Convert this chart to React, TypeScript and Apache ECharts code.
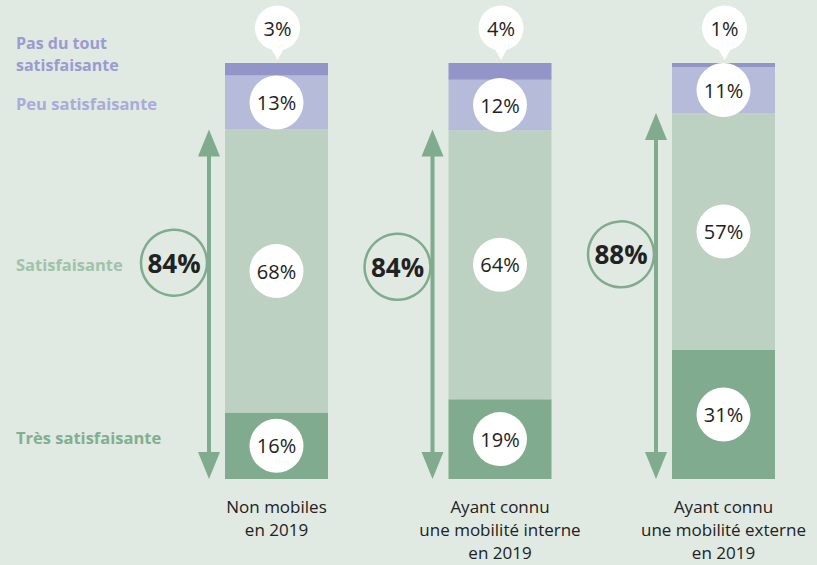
import React, { useEffect, useRef } from "react";
import * as echarts from "echarts";

const categories = [
  "Non mobiles\nen 2019",
  "Ayant connu\nune mobilité interne\nen 2019",
  "Ayant connu\nune mobilité externe\nen 2019",
];
const tresSatisfaisante = [16, 19, 31];
const satisfaisante = [68, 64, 57];
const peuSatisfaisante = [13, 12, 11];
const pasDuTout = [3, 4, 1];
const totalSatisfaits = [84, 84, 88];
const legendLabels = ["Pas du tout", "satisfaisante", "Peu satisfaisante", "Satisfaisante", "Très satisfaisante"];

const FONT = "Open Sans";
const BG = "#e0e9e2";
const C_TRES = "#80ab8e";
const C_SAT = "#bdd1c3";
const C_PEU = "#b5bbd8";
const C_PAS = "#9395c9";
const TXT = "#222222";

export default function App() {
  const ref = useRef<HTMLDivElement>(null);
  useEffect(() => {
    if (!ref.current) return;
    const chart = echarts.init(ref.current, undefined, { renderer: "svg" });

    const totals = categories.map(
      (_, i) => tresSatisfaisante[i] + satisfaisante[i] + peuSatisfaisante[i] + pasDuTout[i]
    );
    // each bar is drawn as shares of its own total (rounded labels may not sum to 100)
    const share = (arr: number[]) =>
      arr.map((v, i) => ({ value: (v / totals[i]) * 100, pct: v }));

    const circleLabel = {
      show: true,
      position: "inside",
      formatter: (p: any) => p.data.pct + "%",
      backgroundColor: "#ffffff",
      width: 54,
      height: 54,
      lineHeight: 54,
      borderRadius: 27,
      align: "center",
      color: TXT,
      fontSize: 20,
      fontFamily: FONT,
    };

    const circleLevels = [52, 51, 54];
    const legendFont = `bold 16.5px "${FONT}"`;
    const legendFontSmall = `bold 16px "${FONT}"`;

    const option: any = {
      animation: false,
      backgroundColor: BG,
      grid: { left: 276.5, width: 447, top: 63, height: 416 },
      xAxis: {
        type: "category",
        data: categories,
        boundaryGap: false,
        axisLine: { show: false },
        axisTick: { show: false },
        axisLabel: {
          color: TXT,
          fontSize: 17,
          lineHeight: 23,
          margin: 16,
          fontFamily: FONT,
          interval: 0,
        },
      },
      yAxis: { type: "value", min: 0, max: 100, show: false, splitLine: { show: false } },
      graphic: [
        {
          type: "text",
          left: 16,
          top: 35,
          style: { text: legendLabels[0], fill: "#9a9bd0", font: legendFontSmall },
        },
        {
          type: "text",
          left: 16,
          top: 57,
          style: { text: legendLabels[1], fill: "#9a9bd0", font: legendFontSmall },
        },
        {
          type: "text",
          left: 16,
          top: 95,
          style: { text: legendLabels[2], fill: "#a9abd8", font: legendFont },
        },
        {
          type: "text",
          left: 16,
          top: 256,
          style: { text: legendLabels[3], fill: "#9fc3aa", font: legendFont },
        },
        {
          type: "text",
          left: 16,
          top: 429,
          style: { text: legendLabels[4], fill: "#82ae91", font: legendFont },
        },
      ],
      series: [
        {
          type: "bar",
          stack: "s",
          barWidth: 103,
          data: share(tresSatisfaisante),
          itemStyle: { color: C_TRES },
          label: circleLabel,
        },
        {
          type: "bar",
          stack: "s",
          data: share(satisfaisante),
          itemStyle: { color: C_SAT },
          label: circleLabel,
        },
        {
          type: "bar",
          stack: "s",
          data: share(peuSatisfaisante),
          itemStyle: { color: C_PEU },
          label: circleLabel,
        },
        {
          type: "bar",
          stack: "s",
          data: share(pasDuTout),
          itemStyle: { color: C_PAS },
          label: { show: false },
        },
        {
          // callout bubbles for "Pas du tout satisfaisante"
          type: "custom",
          data: pasDuTout.map((v, i) => [i, 100, v]),
          z: 5,
          renderItem: (params: any, api: any) => {
            const p = api.coord([api.value(0), api.value(1)]);
            const tipY = p[1] - 3;
            const cx = p[0] + 1;
            const r = 22.5;
            const cy = tipY - 32;
            return {
              type: "group",
              children: [
                {
                  type: "circle",
                  shape: { cx, cy, r },
                  style: { fill: "#ffffff" },
                },
                {
                  type: "polygon",
                  shape: { points: [[cx - 7, cy + r - 3], [cx, tipY], [cx + 7, cy + r - 3]] },
                  style: { fill: "#ffffff" },
                },
                {
                  type: "text",
                  x: cx,
                  y: cy,
                  style: {
                    text: api.value(2) + "%",
                    fill: TXT,
                    font: `20px "${FONT}"`,
                    align: "center",
                    verticalAlign: "middle",
                  },
                },
              ],
            };
          },
        },
        {
          type: "custom",
          data: totalSatisfaits.map((v, i) => [i, v]),
          z: 6,
          renderItem: (params: any, api: any) => {
            const idx = api.value(0);
            const bottom = api.coord([idx, 0]);
            const top = api.coord([idx, api.value(1)]);
            const ax = bottom[0] - 67.5;
            const by = bottom[1];
            const ty = top[1];
            const cy = api.coord([idx, circleLevels[params.dataIndex]])[1];
            const green = C_TRES;
            return {
              type: "group",
              children: [
                {
                  type: "line",
                  shape: { x1: ax, y1: ty + 20, x2: ax, y2: by - 20 },
                  style: { stroke: green, lineWidth: 4 },
                },
                {
                  type: "polygon",
                  shape: { points: [[ax, ty], [ax - 11, ty + 27], [ax + 11, ty + 27]] },
                  style: { fill: green },
                },
                {
                  type: "polygon",
                  shape: { points: [[ax, by], [ax - 11, by - 27], [ax + 11, by - 27]] },
                  style: { fill: green },
                },
                {
                  type: "circle",
                  shape: { cx: ax - 35, cy, r: 33 },
                  style: { fill: BG, stroke: green, lineWidth: 2.5 },
                },
                {
                  type: "text",
                  x: ax - 35,
                  y: cy,
                  style: {
                    text: api.value(1) + "%",
                    fill: TXT,
                    font: `bold 26px "${FONT}"`,
                    align: "center",
                    verticalAlign: "middle",
                  },
                },
              ],
            };
          },
        },
      ],
    };
    chart.setOption(option);
    return () => chart.dispose();
  }, []);
  return <div ref={ref} style={{ position: "fixed", left: 0, top: 0, width: 817, height: 565 }} />;
}
